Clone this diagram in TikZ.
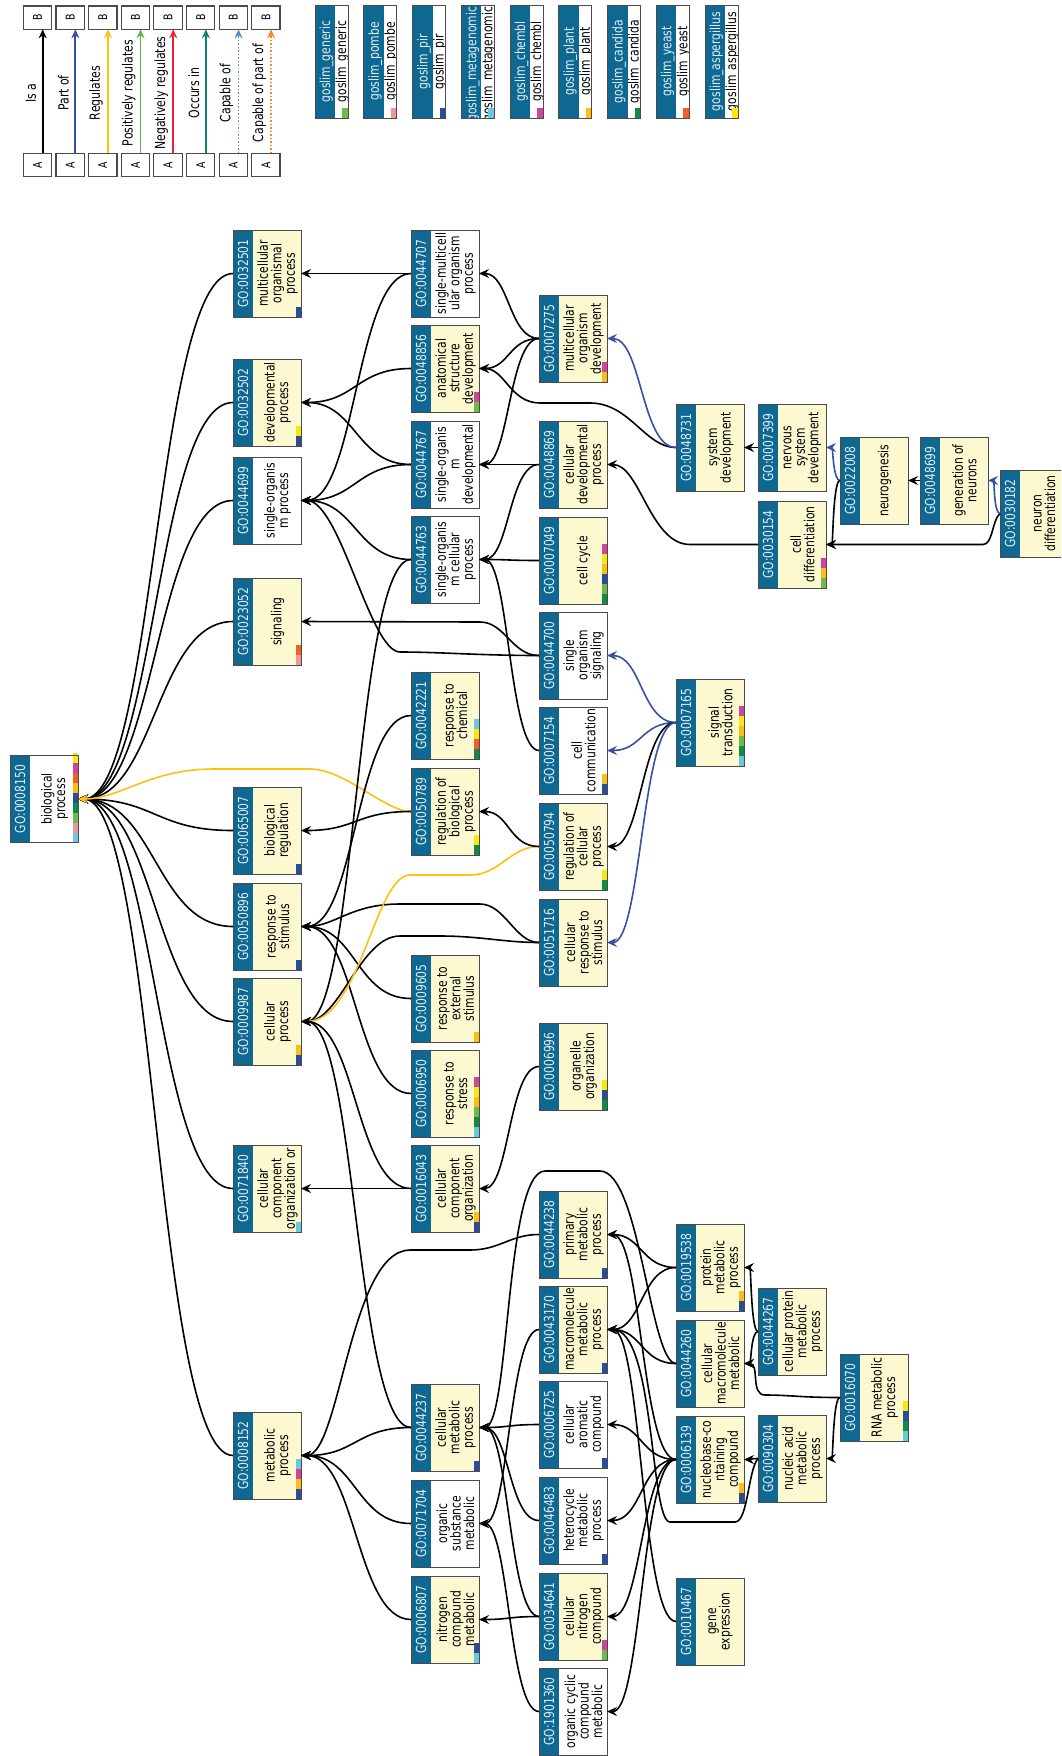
\documentclass[tikz,border=0pt]{standalone}
\usepackage{graphicx}
\usepackage{fontspec}
\setmainfont{DejaVu Sans}[FakeStretch=0.78]
\usetikzlibrary{arrows.meta,calc}
\definecolor{hdr}{RGB}{14,104,146}
\definecolor{hdrtxt}{RGB}{225,238,245}
\definecolor{boxyel}{RGB}{252,249,208}
\definecolor{bdr}{RGB}{75,75,75}
\definecolor{cY}{RGB}{247,232,20}
\definecolor{cM}{RGB}{205,70,155}
\definecolor{cO}{RGB}{240,95,40}
\definecolor{cA}{RGB}{250,190,20}
\definecolor{cB}{RGB}{45,75,155}
\definecolor{cG}{RGB}{15,140,65}
\definecolor{cL}{RGB}{110,185,75}
\definecolor{cP}{RGB}{240,150,150}
\definecolor{cC}{RGB}{105,200,220}
\definecolor{partof}{RGB}{55,80,165}
\definecolor{regul}{RGB}{255,192,20}
\definecolor{posreg}{RGB}{100,180,70}
\definecolor{negreg}{RGB}{235,35,50}
\definecolor{occurs}{RGB}{15,130,115}
\definecolor{capof}{RGB}{75,140,210}
\definecolor{cappart}{RGB}{245,135,45}
\newcommand\GO[7]{%
 \node[gobox] (#1) at ({#2+34},{#3+43.5}) {};
 \fill[fill=#6] (#2,#3) rectangle ({#2+68},{#3+87});
 \fill[hdr] (#2,#3) rectangle ({#2+20},{#3+87});
 \node[hdrt] at ({#2+10},{#3+43.5}) {GO:#4};
 \begin{scope}
  \clip ({#2+20},#3) rectangle ({#2+68},{#3+87});
  \node[bodyt] at ({#2+44.5},{#3+43.5}) {#5};
 \end{scope}
 \if\relax\detokenize{#7}\relax\else
  \foreach \bc [count=\i from 0] in {#7} {\fill[fill=\bc] ({#2+63},{#3+87-10*\i-10}) rectangle ({#2+68},{#3+87-10*\i});}
 \fi
 \draw[boxline] (#2,#3) rectangle ({#2+68},{#3+87});
}
\newcommand\Edge[3][isa]{\draw[#1] (#2.west) to[sc] (#3.east);}
\newcommand\Leg[4]{%
 \pgfmathsetmacro\lx{23.3+32.63*#1}
 \node[legbox] (la#1) at ({\lx+14.2},165) {\rotatebox{90}{A}};
 \node[legbox] (lb#1) at ({\lx+14.2},17.6) {\rotatebox{90}{B}};
 \draw[line width=1.7pt, draw=#3, #4, -{Stealth[length=9pt,width=8pt,inset=3pt]}] ($(la#1.north)+(5.2,0)$) -- ($(lb#1.south)+(5.2,0)$);
 \node[leglab] (ll#1) at ({\lx+7.5},93) {#2};
}
\newcommand\Slim[3]{%
 \pgfmathsetmacro\sx{315+48.75*#1}
 \node[inner sep=0pt, minimum width=33pt, minimum height=113pt, fill=white] (s#1) at ({\sx+16.5},61.5) {};
 \begin{scope}
  \clip (\sx,5) rectangle ({\sx+33},118);
  \fill[hdr] (\sx,5) rectangle ({\sx+20},118);
  \node[hdrt] (sh#1) at ({\sx+11.5},61.5) {#2};
  \node[bodyt] (sw#1) at ({\sx+27.5},61.5) {#2};
 \end{scope}
 \fill[fill=#3] ({\sx+27},107.5) rectangle ({\sx+33},118);
 \draw[boxline] (\sx,5) rectangle ({\sx+33},118);
}
\begin{document}
\begin{tikzpicture}[x=1pt,y=-1pt,
 gobox/.style={rectangle, minimum width=68pt, minimum height=87pt, inner sep=0pt, outer sep=0pt},
 hdrt/.style={rotate=90, text=hdrtxt, font=\fontsize{13.8}{13.5}\selectfont, inner sep=0pt},
 bodyt/.style={rotate=90, align=center, font=\fontsize{13.8}{13.5}\selectfont, inner sep=0pt, text=black},
 boxline/.style={draw=bdr, line width=1pt},
 legbox/.style={draw=bdr, line width=1.2pt, minimum width=28.3pt, minimum height=23.4pt, inner sep=0pt, outer sep=0pt, fill=white, font=\fontsize{12}{12}\selectfont},
 leglab/.style={rotate=90, inner sep=0pt, font=\fontsize{14}{14}\selectfont},
 isa/.style={draw=black, line width=1.6pt, -{Stealth[length=10pt,width=9pt,inset=3.5pt]}},
 po/.style={isa, draw=partof},
 rg/.style={isa, draw=regul},
 sc/.style={to path={let \p1=(\tikztostart), \p2=(\tikztotarget), \p3=($(\tikztostart)!0.5!(\tikztotarget)$) in .. controls (\x3,\y1) and (\x3,\y2) .. (\tikztotarget)}}
]
\clip (0,0) rectangle (1061,1756);
\fill[white] (0,0) rectangle (1061,1756);

% legend
\Leg{0}{Is a}{black}{solid}
\Leg{1}{Part of}{partof}{solid}
\Leg{2}{Regulates}{regul}{solid}
\Leg{3}{Positively regulates}{posreg}{solid}
\Leg{4}{Negatively regulates}{negreg}{solid}
\Leg{5}{Occurs in}{occurs}{solid}
\Leg{6}{Capable of}{capof}{dash pattern=on 1.6pt off 1.9pt}
\Leg{7}{Capable of part of}{cappart}{dash pattern=on 1.6pt off 1.9pt}

\Slim{0}{goslim\_generic}{cL}
\Slim{1}{goslim\_pombe}{cP}
\Slim{2}{goslim\_pir}{cB}
\Slim{3}{goslim\_metagenomics}{cC}
\Slim{4}{goslim\_chembl}{cM}
\Slim{5}{goslim\_plant}{cA}
\Slim{6}{goslim\_candida}{cG}
\Slim{7}{goslim\_yeast}{cO}
\Slim{8}{goslim\_aspergillus}{cY}

% nodes
\GO{a0008150}{10}{755.5}{0008150}{biological\\process}{white}{cC,cP,cL,cG,cB,cA,cO,cM,cY}

\GO{a0032501}{233}{230}{0032501}{multicellular\\organismal\\process}{boxyel}{cB}
\GO{a0032502}{233}{359}{0032502}{developmental\\process}{boxyel}{cB,cY}
\GO{a0044699}{233}{457}{0044699}{single-organis\\m process}{white}{}
\GO{a0023052}{233}{578}{0023052}{signaling}{boxyel}{cP,cO}
\GO{a0065007}{233}{787}{0065007}{biological\\regulation}{boxyel}{cB}
\GO{a0050896}{233}{883}{0050896}{response to\\stimulus}{boxyel}{cB}
\GO{a0009987}{233}{978}{0009987}{cellular\\process}{boxyel}{cB,cA}
\GO{a0071840}{233}{1145}{0071840}{cellular\\component\\organization or}{boxyel}{cC}
\GO{a0008152}{233}{1412}{0008152}{metabolic\\process}{boxyel}{cB,cA,cM,cC}

\GO{a0044707}{411}{230}{0044707}{single-multicell\\ular organism\\process}{white}{}
\GO{a0048856}{411}{325}{0048856}{anatomical\\structure\\development}{boxyel}{cL,cM}
\GO{a0044767}{411}{421}{0044767}{single-organis\\m\\developmental}{white}{}
\GO{a0044763}{411}{516}{0044763}{single-organis\\m cellular\\process}{white}{}
\GO{a0042221}{411}{672}{0042221}{response to\\chemical}{boxyel}{cG,cO,cY,cC}
\GO{a0050789}{411}{768}{0050789}{regulation of\\biological\\process}{boxyel}{cG,cY}
\GO{a0009605}{411}{955}{0009605}{response to\\external\\stimulus}{boxyel}{cA}
\GO{a0006950}{411}{1050}{0006950}{response to\\stress}{boxyel}{cC,cG,cL,cA,cY,cM}
\GO{a0016043}{411}{1145}{0016043}{cellular\\component\\organization}{boxyel}{cB,cA}
\GO{a0044237}{411}{1384}{0044237}{cellular\\metabolic\\process}{boxyel}{cB}
\GO{a0071704}{411}{1480}{0071704}{organic\\substance\\metabolic}{white}{}
\GO{a0006807}{411}{1576}{0006807}{nitrogen\\compound\\metabolic}{boxyel}{cC,cB}

\GO{a0007275}{539}{295}{0007275}{multicellular\\organism\\development}{boxyel}{cA,cM}
\GO{a0048869}{539}{421}{0048869}{cellular\\developmental\\process}{boxyel}{}
\GO{a0007049}{539}{517}{0007049}{cell cycle}{boxyel}{cG,cL,cB,cA,cY,cM}
\GO{a0044700}{539}{612}{0044700}{single\\organism\\signaling}{white}{}
\GO{a0007154}{539}{707}{0007154}{cell\\communication}{white}{cB,cA}
\GO{a0050794}{539}{803}{0050794}{regulation of\\cellular\\process}{boxyel}{cG,cY}
\GO{a0051716}{539}{899}{0051716}{cellular\\response to\\stimulus}{boxyel}{}
\GO{a0006996}{539}{1023}{0006996}{organelle\\organization}{boxyel}{cG,cB,cY}
\GO{a0044238}{539}{1191}{0044238}{primary\\metabolic\\process}{boxyel}{cB}
\GO{a0043170}{539}{1286}{0043170}{macromolecule\\metabolic\\process}{boxyel}{cB}
\GO{a0006725}{539}{1381}{0006725}{cellular\\aromatic\\compound}{white}{cB}
\GO{a0046483}{539}{1477}{0046483}{heterocycle\\metabolic\\process}{white}{cB}
\GO{a0034641}{539}{1573}{0034641}{cellular\\nitrogen\\compound}{boxyel}{cL,cM}
\GO{a1901360}{539}{1668}{1901360}{organic cyclic\\compound\\metabolic}{white}{}

\GO{a0048731}{676}{404}{0048731}{system\\development}{boxyel}{}
\GO{a0007165}{676}{679}{0007165}{signal\\transduction}{boxyel}{cC,cG,cL,cA,cY,cM}
\GO{a0019538}{676}{1224}{0019538}{protein\\metabolic\\process}{boxyel}{cB,cA}
\GO{a0044260}{676}{1320}{0044260}{cellular\\macromolecule\\metabolic}{boxyel}{}
\GO{a0006139}{676}{1416}{0006139}{nucleobase-co\\ntaining\\compound}{boxyel}{cB,cA}
\GO{a0010467}{676}{1578}{0010467}{gene\\expression}{boxyel}{}

\GO{a0007399}{758}{404}{0007399}{nervous\\system\\development}{boxyel}{}
\GO{a0030154}{758}{501}{0030154}{cell\\differentiation}{boxyel}{cL,cA,cM}
\GO{a0044267}{758}{1288}{0044267}{cellular protein\\metabolic\\process}{boxyel}{}
\GO{a0090304}{758}{1415}{0090304}{nucleic acid\\metabolic\\process}{boxyel}{}

\GO{a0022008}{840}{437}{0022008}{neurogenesis}{boxyel}{}
\GO{a0016070}{840}{1354}{0016070}{RNA metabolic\\process}{boxyel}{cC,cG,cB,cY}
\GO{a0048699}{920}{437}{0048699}{generation of\\neurons}{boxyel}{}
\GO{a0030182}{1000}{470}{0030182}{neuron\\differentiation}{boxyel}{}

% edges to root
\Edge{a0032501}{a0008150}
\Edge{a0032502}{a0008150}
\Edge{a0044699}{a0008150}
\Edge{a0023052}{a0008150}
\Edge{a0065007}{a0008150}
\Edge{a0050896}{a0008150}
\Edge{a0009987}{a0008150}
\Edge{a0071840}{a0008150}
\Edge{a0008152}{a0008150}
\draw[rg] (a0050789.west) .. controls (385,811.5) and (345,769) .. (310,769) -- (213,769) .. controls (150,769) and (120,799) .. (a0008150.east);

% edges to column 1
\Edge{a0044707}{a0032501}
\Edge{a0044707}{a0044699}
\Edge{a0048856}{a0032502}
\Edge{a0044767}{a0032502}
\Edge{a0044767}{a0044699}
\Edge{a0044763}{a0044699}
\draw[isa] (a0044700.west) .. controls (480,655.5) and (440,652) .. (400,652) .. controls (370,652) and (340,500.5) .. (a0044699.east);
\draw[isa] (a0044700.west) .. controls (512,655.5) and (505,622) .. (480,622) -- (a0023052.east);
\Edge{a0044763}{a0009987}
\Edge{a0042221}{a0050896}
\Edge{a0050789}{a0065007}
\Edge{a0009605}{a0050896}
\Edge{a0006950}{a0050896}
\draw[isa] (a0051716.west) .. controls (515,942.5) and (505,904) .. (480,904) -- (400,904) .. controls (350,904) and (335,926.5) .. (a0050896.east);
\draw[isa] (a0051716.west) .. controls (505,942.5) and (480,936) .. (440,936) -- (400,936) .. controls (360,936) and (340,1021.5) .. (a0009987.east);
\draw[rg] (a0050794.west) .. controls (510,846.5) and (500,875) .. (470,875) -- (410,875) .. controls (375,875) and (360,1021.5) .. (a0009987.east);
\Edge{a0016043}{a0071840}
\Edge{a0016043}{a0009987}
\Edge{a0044237}{a0009987}
\Edge{a0044237}{a0008152}
\Edge{a0071704}{a0008152}
\Edge{a0006807}{a0008152}
\draw[isa] (a0044238.west) .. controls (510,1234.5) and (500,1250) .. (470,1250) -- (410,1250) .. controls (350,1250) and (340,1455.5) .. (a0008152.east);

% edges to column 2
\Edge{a0007275}{a0044707}
\Edge{a0007275}{a0048856}
\Edge{a0007275}{a0044767}
\draw[isa] (a0048731.west) .. controls (645,447.5) and (630,403) .. (590,403) -- (540,403) .. controls (510,403) and (505,368.5) .. (a0048856.east);
\Edge{a0048869}{a0044767}
\Edge{a0048869}{a0044763}
\Edge{a0007049}{a0044763}
\Edge{a0007154}{a0044763}
\Edge{a0050794}{a0050789}
\Edge{a0006996}{a0016043}
\draw[isa] (a0044260.west) .. controls (650,1363.5) and (640,1171) .. (600,1171) -- (545,1171) .. controls (505,1171) and (510,1427.5) .. (a0044237.east);
\Edge{a0043170}{a0071704}
\Edge{a0006725}{a0044237}
\Edge{a0046483}{a0044237}
\Edge{a0034641}{a0044237}
\Edge{a0034641}{a0006807}
\Edge{a1901360}{a0071704}

% edges to column 3
\Edge[po]{a0048731}{a0007275}
\draw[isa] (a0030154.west) -- (690,544.5) .. controls (650,544.5) and (640,464.5) .. (a0048869.east);
\Edge[po]{a0007165}{a0044700}
\Edge[po]{a0007165}{a0007154}
\Edge{a0007165}{a0050794}
\Edge[po]{a0007165}{a0051716}
\Edge{a0019538}{a0044238}
\Edge{a0006139}{a0044238}
\Edge{a0019538}{a0043170}
\Edge{a0044260}{a0043170}
\Edge{a0010467}{a0043170}
\draw[isa] (a0090304.west) .. controls (748,1470) and (748,1522) .. (735,1522) -- (670,1522) .. controls (650,1522) and (655,1329.5) .. (a0043170.east);
\Edge{a0006139}{a0006725}
\Edge{a0006139}{a0046483}
\Edge{a0006139}{a0034641}
\Edge{a0006139}{a1901360}

% edges to column 4+
\Edge{a0007399}{a0048731}
\Edge{a0044267}{a0019538}
\Edge{a0044267}{a0044260}
\Edge{a0090304}{a0006139}
\draw[isa] (a0016070.west) .. controls (800,1397.5) and (790,1395) .. (765,1395) .. controls (750,1395) and (760,1363.5) .. (a0044260.east);
\Edge[po]{a0022008}{a0007399}
\Edge{a0022008}{a0030154}
\draw[isa] (a0030182.west) .. controls (992,520) and (993,544.5) .. (983,544.5) -- (a0030154.east);
\Edge{a0016070}{a0090304}
\Edge{a0048699}{a0022008}
\Edge[po]{a0030182}{a0048699}
\end{tikzpicture}
\end{document}
